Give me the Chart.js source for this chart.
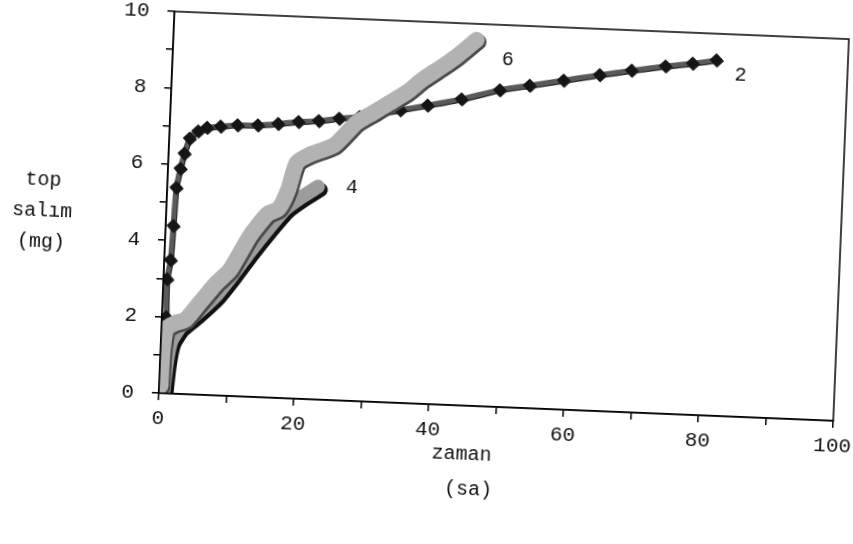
<!DOCTYPE html>
<html lang="tr">
<head>
  <meta charset="UTF-8" />
  <title>top salım</title>
  <script src="https://cdn.jsdelivr.net/npm/chart.js"></script>
  <style>
    html, body {
      margin: 0;
      background: #fff;
      overflow: hidden;
      width: 853px;
      height: 544px;
    }
    /* the scanned page is a little skewed, so the whole chart is turned with it */
    #wrap {
      width: 880px;
      height: 544px;
      transform: rotate(2.35deg);
      transform-origin: 426.5px 272px;
    }
  </style>
</head>
<body>
  <div id="wrap">
    <canvas id="releaseChart" width="880" height="544"></canvas>
  </div>

  <script>
    // curve labels and their points (zaman in sa, top salım in mg)
    const seriesNames = ["2", "4", "6"];

    const series2X = [0.8, 0.9, 0.6, 0.5, 0.9, 1.1, 1.3, 1.8, 2.3, 3.0, 4.2, 5.5, 7.5, 10, 13, 16, 19, 22, 25, 28, 31, 34, 38, 43, 48.6, 53, 58, 63.3, 68, 73, 77, 80.5];
    const series2Y = [0.2, 1.0, 2.0, 3.0, 3.5, 4.4, 5.4, 5.9, 6.3, 6.7, 6.9, 7.0, 7.05, 7.1, 7.12, 7.18, 7.25, 7.3, 7.38, 7.45, 7.55, 7.67, 7.82, 8.02, 8.3, 8.45, 8.62, 8.8, 8.95, 9.1, 9.2, 9.31];

    const series4X = [0.7, 1.0, 1.5, 2.8, 5.0, 7.8, 10.3, 12.7, 15.2, 17.6, 19.7, 22.3];
    const series4Y = [0.1, 0.8, 1.35, 1.75, 2.1, 2.6, 3.2, 3.82, 4.42, 4.95, 5.25, 5.57];

    const series6X = [0.2, 0.3, 0.75, 2.0, 3.5, 5.6, 8.0, 9.8, 12.5, 15.0, 16.6, 17.9, 19.0, 20.9, 24.5, 27.6, 30.0, 32.4, 35.0, 37.1, 40.0, 42.0, 44.9];
    const series6Y = [0.2, 1.1, 1.7, 1.85, 1.95, 2.43, 2.97, 3.3, 4.2, 4.8, 4.95, 5.45, 6.17, 6.4, 6.68, 7.28, 7.56, 7.84, 8.15, 8.48, 8.85, 9.12, 9.58];

    const xTickValues = [0, 20, 40, 60, 80, 100];
    const xTickLabels = ["0", "20", "40", "60", "80", "100"];
    const yTickValues = [0, 2, 4, 6, 8, 10];
    const yTickLabels = ["0", "2", "4", "6", "8", "10"];

    const yTitleLines = ["top", "salım", "(mg)"];
    const xTitleLines = ["zaman", "(sa)"];

    const FONT = "'Liberation Mono', 'DejaVu Sans Mono', monospace";

    function toPoints(xs, ys) {
      return xs.map((x, i) => ({ x: x, y: ys[i] }));
    }

    // how each curve is drawn and where its number sits next to its end
    const curveStyles = {
      "2": { line: "#5a5a5a", width: 5, point: "#151515", radius: 3.2, shadow: "#222", off: 1, labelDx: 25, labelDy: 14 },
      "4": { line: "#9c9c9c", width: 14, point: "#9c9c9c", radius: 0, shadow: "#111", off: 3, labelDx: 34, labelDy: -1 },
      "6": { line: "#b2b2b2", width: 16, point: "#b2b2b2", radius: 0, shadow: "#4a4a4a", off: 2, labelDx: 32, labelDy: 19 }
    };

    const seriesData = {
      "2": toPoints(series2X, series2Y),
      "4": toPoints(series4X, series4Y),
      "6": toPoints(series6X, series6Y)
    };

    // draw order: the grey bands first, the dark curve on top
    const drawOrder = ["6", "4", "2"];

    const datasets = drawOrder.map(name => {
      const s = curveStyles[name];
      return {
        label: name,
        data: seriesData[name],
        borderColor: s.line,
        borderWidth: s.width,
        backgroundColor: s.point,
        pointBackgroundColor: s.point,
        pointBorderColor: s.point,
        pointStyle: "rectRot",
        pointRadius: s.radius,
        pointHoverRadius: s.radius,
        borderCapStyle: "round",
        borderJoinStyle: "round",
        tension: 0.2,
        showLine: true
      };
    });

    // dark edge on the lower right of each band, like the print
    const bandShadow = {
      id: "bandShadow",
      beforeDatasetDraw(chart, args) {
        const s = curveStyles[chart.data.datasets[args.index].label];
        const ctx = chart.ctx;
        ctx.save();
        ctx.shadowColor = s.shadow;
        ctx.shadowOffsetX = s.off;
        ctx.shadowOffsetY = s.off;
        ctx.shadowBlur = 0;
      },
      afterDatasetDraw(chart) {
        chart.ctx.restore();
      }
    };

    // frame, curve numbers and the two axis titles
    const extras = {
      id: "extras",
      afterDraw(chart) {
        const ctx = chart.ctx;
        const a = chart.chartArea;
        ctx.save();
        ctx.strokeStyle = "#000";
        ctx.lineWidth = 1.5;
        ctx.strokeRect(a.left, a.top, a.right - a.left, a.bottom - a.top);

        ctx.fillStyle = "#111";
        ctx.font = "20px " + FONT;
        ctx.textAlign = "center";
        ctx.textBaseline = "middle";
        chart.data.datasets.forEach((ds, i) => {
          const pts = chart.getDatasetMeta(i).data;
          const last = pts[pts.length - 1];
          const s = curveStyles[ds.label];
          ctx.fillText(ds.label, last.x + s.labelDx, last.y + s.labelDy);
        });

        ctx.font = "20px " + FONT;
        yTitleLines.forEach((t, i) => {
          ctx.fillText(t, 40, 196 + i * 31);
        });
        xTitleLines.forEach((t, i) => {
          ctx.fillText(t, a.left + 305 + i * 8, 453 + i * 35);
        });
        ctx.restore();
      }
    };

    new Chart(document.getElementById("releaseChart"), {
      type: "scatter",
      data: { datasets: datasets },
      plugins: [bandShadow, extras],
      options: {
        responsive: false,
        animation: false,
        layout: { padding: { left: 0, right: 41, top: 22, bottom: 0 } },
        plugins: {
          legend: { display: false },
          tooltip: { enabled: false }
        },
        scales: {
          x: {
            type: "linear",
            min: 0,
            max: 100,
            ticks: {
              stepSize: 10,
              autoSkip: false,
              maxRotation: 0,
              padding: 6,
              color: "#111",
              font: { family: FONT, size: 21 },
              callback: v => {
                const k = xTickValues.indexOf(v);
                return k >= 0 ? xTickLabels[k] : "";
              }
            },
            grid: { drawOnChartArea: false, drawTicks: true, tickLength: 7, color: "#000", lineWidth: 1.5 },
            border: { display: true, color: "#000", width: 1.5 },
            afterFit: scale => {
              scale.height = 140;
              scale.paddingLeft = 0;
              scale.paddingRight = 0;
            }
          },
          y: {
            type: "linear",
            min: 0,
            max: 10,
            ticks: {
              stepSize: 1,
              autoSkip: false,
              padding: 18,
              color: "#111",
              font: { family: FONT, size: 21 },
              callback: v => {
                const k = yTickValues.indexOf(v);
                return k >= 0 ? yTickLabels[k] : "";
              }
            },
            grid: { drawOnChartArea: false, drawTicks: true, tickLength: 7, color: "#000", lineWidth: 1.5 },
            border: { display: true, color: "#000", width: 1.5 },
            afterFit: scale => {
              scale.width = 164;
              scale.paddingTop = 0;
              scale.paddingBottom = 0;
            }
          }
        }
      }
    });
  </script>
</body>
</html>
